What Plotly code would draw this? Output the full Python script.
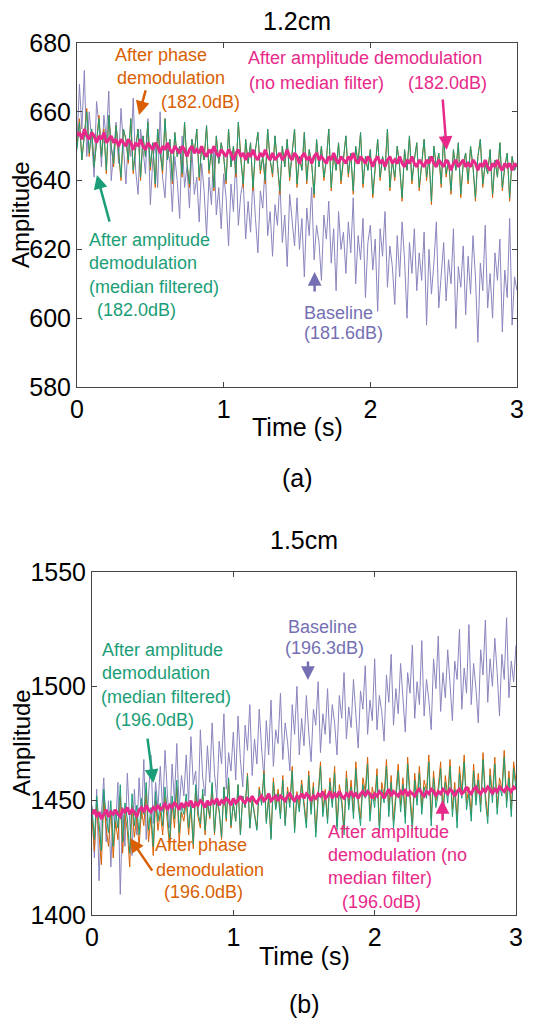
import numpy as np
import plotly.graph_objects as go

# ---------------- data ----------------
baseline_a = [
    651, 668, 655, 672, 647, 660, 652, 641, 663, 656,
    644, 659, 652, 666, 640, 648, 657, 645, 661, 650,
    639, 652, 647, 664, 643, 636, 655, 649, 642, 658,
    633, 646, 651, 638, 660, 641, 635, 650, 645, 631,
    647, 640, 629, 653, 638, 644, 632, 649, 636, 641,
    628, 645, 637, 624, 641, 633, 650, 630, 638, 626,
    642, 635, 621, 639, 631, 647, 627, 636, 640, 623,
    634, 625, 641, 629, 619, 637, 632, 645, 624, 631,
    618, 633, 627, 640, 622, 630, 615, 636, 628, 621,
    635, 620, 629, 612, 632, 624, 638, 617, 627, 622,
    611, 630, 623, 634, 616, 626, 608, 631, 620, 625,
    613, 628, 619, 635, 610, 624, 617, 629, 606, 622,
    627, 614, 623, 602, 626, 618, 631, 609, 621, 615,
    604, 624, 612, 628, 617, 600, 622, 613, 626, 608,
    619, 611, 625, 598, 620, 607, 616, 628, 603, 614,
    622, 605, 617, 610, 626, 597, 615, 609, 621, 601,
    618, 607, 624, 612, 593, 616, 608, 627, 603, 613,
    600, 619, 611, 623, 596, 614, 606, 629, 598, 612,
    608]

phase_a = [
    650, 658, 646, 653, 661, 647, 655, 644, 652, 659,
    647, 655, 642, 659, 650, 644, 656, 649, 640, 655,
    652, 645, 658, 642, 650, 655, 640, 653, 647, 657,
    643, 651, 638, 655, 648, 642, 658, 646, 652, 639,
    654, 647, 650, 641, 657, 645, 638, 652, 648, 655,
    640, 650, 646, 656, 642, 649, 637, 653, 645, 651,
    647, 639, 655, 644, 650, 641, 657, 646, 638, 652,
    645, 651, 637, 649, 654, 642, 647, 639, 655, 646,
    641, 653, 645, 636, 650, 644, 652, 640, 648, 655,
    638, 647, 643, 654, 639, 649, 645, 635, 652, 644,
    650, 640, 646, 655, 637, 648, 643, 651, 639, 646,
    653, 641, 648, 636, 650, 645, 654, 638, 647, 643,
    649, 635, 645, 652, 640, 647, 643, 655, 637, 646,
    640, 650, 644, 634, 649, 643, 653, 639, 646, 651,
    637, 645, 652, 640, 647, 633, 650, 644, 648, 638,
    653, 641, 646, 636, 649, 643, 651, 635, 645, 648,
    639, 650, 644, 634, 647, 652, 638, 645, 642, 649,
    635, 646, 641, 651, 637, 644, 648, 634, 647, 643,
    645]

amp_median_a = [
    649, 657, 646, 653, 660, 648, 655, 644, 651, 658,
    647, 654, 643, 659, 650, 645, 656, 649, 641, 655,
    652, 646, 658, 643, 650, 655, 641, 653, 647, 657,
    644, 651, 639, 655, 648, 643, 658, 646, 652, 640,
    654, 647, 650, 642, 657, 645, 639, 652, 648, 655,
    641, 650, 646, 656, 643, 649, 638, 653, 645, 651,
    647, 640, 655, 644, 650, 642, 657, 646, 639, 652,
    645, 651, 638, 649, 654, 643, 647, 640, 655, 646,
    642, 653, 645, 637, 650, 644, 652, 641, 648, 655,
    639, 647, 643, 654, 640, 649, 645, 636, 652, 644,
    650, 641, 646, 655, 638, 648, 643, 651, 640, 646,
    653, 642, 648, 637, 650, 645, 654, 639, 647, 643,
    649, 636, 645, 652, 641, 647, 643, 655, 638, 646,
    641, 650, 644, 635, 649, 643, 653, 640, 646, 651,
    638, 645, 652, 641, 647, 634, 650, 644, 648, 639,
    653, 642, 646, 637, 649, 643, 651, 636, 645, 648,
    640, 650, 644, 635, 647, 652, 639, 645, 642, 649,
    636, 646, 641, 651, 638, 644, 648, 635, 647, 643,
    645]

amp_nomedian_a = [
    653, 654, 652, 655, 653, 652, 654, 653, 651, 653,
    652, 654, 651, 652, 653, 651, 652, 650, 652, 651,
    650, 652, 651, 649, 651, 650, 652, 650, 649, 651,
    650, 649, 651, 650, 648, 650, 649, 651, 649, 648,
    650, 649, 648, 650, 649, 647, 649, 650, 648, 649,
    648, 650, 648, 647, 649, 648, 650, 648, 647, 649,
    648, 647, 649, 648, 646, 648, 649, 647, 648, 646,
    648, 647, 649, 647, 646, 648, 647, 649, 647, 646,
    648, 646, 647, 648, 646, 647, 649, 647, 646, 648,
    647, 645, 647, 648, 646, 647, 645, 647, 648, 646,
    647, 646, 645, 647, 646, 648, 646, 645, 647, 646,
    645, 647, 646, 648, 646, 645, 647, 646, 645, 647,
    646, 644, 646, 647, 645, 646, 644, 646, 647, 645,
    646, 645, 647, 645, 644, 646, 645, 647, 645, 644,
    646, 645, 644, 646, 645, 647, 645, 644, 646, 645,
    644, 646, 645, 643, 645, 646, 644, 645, 646, 644,
    645, 644, 646, 645, 643, 645, 644, 646, 644, 643,
    645, 644, 646, 644, 643, 645, 644, 645, 643, 645,
    644]

baseline_b = [
    1448, 1425, 1455, 1415, 1444, 1460, 1432, 1450, 1421, 1446,
    1438, 1458, 1409, 1447, 1430, 1462, 1441, 1426, 1455, 1435,
    1460, 1442, 1468, 1433, 1452, 1470, 1440, 1458, 1447, 1465,
    1445, 1472, 1453, 1438, 1466, 1450, 1475, 1446, 1461, 1452,
    1470, 1449, 1478, 1457, 1463, 1444, 1481, 1460, 1452, 1474,
    1458, 1484, 1462, 1451, 1476, 1466, 1488, 1455, 1471, 1463,
    1480, 1459, 1487, 1468, 1456, 1483, 1472, 1492, 1461, 1477,
    1466, 1490, 1473, 1460, 1485, 1470, 1494, 1465, 1481, 1475,
    1497, 1468, 1484, 1476, 1463, 1492, 1479, 1500, 1470, 1486,
    1474, 1496, 1480, 1467, 1490, 1483, 1502, 1471, 1488, 1479,
    1499, 1475, 1492, 1484, 1470, 1496, 1486, 1506, 1477, 1491,
    1482, 1503, 1488, 1473, 1498, 1490, 1509, 1479, 1494, 1485,
    1512, 1481, 1496, 1489, 1476, 1505, 1493, 1514, 1483, 1499,
    1488, 1510, 1495, 1480, 1506, 1497, 1518, 1486, 1502, 1492,
    1520, 1487, 1503, 1494, 1481, 1512, 1499, 1522, 1489, 1506,
    1495, 1516, 1501, 1485, 1511, 1503, 1525, 1490, 1508, 1497,
    1527, 1492, 1510, 1499, 1484, 1516, 1505, 1529, 1493, 1512,
    1500, 1521, 1506, 1487, 1514, 1503, 1530, 1495, 1511, 1502,
    1518]

phase_b = [
    1443, 1428, 1448, 1436, 1422, 1451, 1438, 1430, 1446, 1425,
    1441, 1433, 1452, 1427, 1444, 1437, 1421, 1448, 1434, 1443,
    1430, 1446, 1439, 1454, 1432, 1443, 1426, 1450, 1437, 1445,
    1435, 1452, 1441, 1429, 1449, 1438, 1456, 1432, 1445, 1441,
    1450, 1435, 1447, 1429, 1455, 1443, 1438, 1453, 1435, 1449,
    1442, 1457, 1435, 1450, 1445, 1433, 1456, 1441, 1459, 1438,
    1449, 1441, 1457, 1435, 1452, 1447, 1462, 1438, 1451, 1444,
    1438, 1456, 1449, 1463, 1441, 1452, 1434, 1460, 1447, 1455,
    1444, 1461, 1440, 1456, 1449, 1465, 1437, 1454, 1447, 1459,
    1450, 1440, 1463, 1446, 1458, 1436, 1453, 1467, 1445, 1455,
    1442, 1460, 1449, 1465, 1439, 1457, 1451, 1437, 1463, 1448,
    1459, 1445, 1467, 1451, 1442, 1460, 1454, 1469, 1444, 1456,
    1450, 1464, 1439, 1458, 1452, 1468, 1446, 1461, 1441, 1455,
    1466, 1448, 1460, 1443, 1469, 1453, 1440, 1462, 1451, 1465,
    1447, 1459, 1454, 1470, 1442, 1463, 1450, 1456, 1467, 1445,
    1461, 1452, 1468, 1446, 1458, 1441, 1465, 1454, 1470, 1449,
    1456, 1444, 1466, 1451, 1462, 1448, 1471, 1453, 1443, 1464,
    1452, 1469, 1447, 1460, 1455, 1472, 1450, 1463, 1446, 1467,
    1458]

amp_median_b = [
    1447, 1433, 1452, 1440, 1428, 1455, 1443, 1436, 1450, 1430,
    1446, 1438, 1457, 1432, 1449, 1442, 1427, 1453, 1439, 1448,
    1435, 1451, 1444, 1458, 1437, 1447, 1430, 1454, 1441, 1449,
    1439, 1456, 1445, 1433, 1452, 1442, 1459, 1436, 1448, 1444,
    1453, 1438, 1449, 1431, 1457, 1445, 1440, 1455, 1437, 1450,
    1443, 1458, 1436, 1451, 1446, 1434, 1456, 1442, 1460, 1439,
    1449, 1441, 1457, 1435, 1452, 1447, 1461, 1438, 1450, 1444,
    1437, 1455, 1448, 1462, 1440, 1451, 1433, 1458, 1446, 1453,
    1442, 1459, 1439, 1454, 1447, 1463, 1436, 1452, 1445, 1457,
    1448, 1438, 1461, 1444, 1456, 1434, 1451, 1465, 1443, 1453,
    1440, 1458, 1447, 1462, 1437, 1454, 1449, 1435, 1460, 1446,
    1456, 1442, 1464, 1448, 1439, 1457, 1451, 1466, 1441, 1453,
    1447, 1461, 1436, 1455, 1449, 1465, 1443, 1458, 1438, 1452,
    1463, 1445, 1457, 1440, 1466, 1450, 1437, 1459, 1448, 1462,
    1444, 1456, 1451, 1467, 1439, 1460, 1447, 1453, 1464, 1442,
    1458, 1449, 1465, 1443, 1455, 1438, 1462, 1451, 1467, 1446,
    1453, 1441, 1463, 1448, 1459, 1445, 1468, 1450, 1440, 1461,
    1449, 1466, 1444, 1457, 1452, 1469, 1447, 1460, 1443, 1464,
    1455]

amp_nomedian_b = [
    1444, 1446, 1443, 1445, 1442, 1444, 1446, 1443, 1445, 1444,
    1446, 1444, 1443, 1446, 1445, 1447, 1444, 1446, 1445, 1443,
    1446, 1447, 1445, 1448, 1446, 1445, 1447, 1446, 1448, 1446,
    1447, 1449, 1446, 1448, 1447, 1449, 1448, 1446, 1449, 1447,
    1449, 1448, 1450, 1447, 1449, 1448, 1450, 1449, 1447, 1450,
    1448, 1450, 1449, 1451, 1448, 1450, 1449, 1451, 1450, 1448,
    1451, 1449, 1450, 1452, 1450, 1449, 1451, 1450, 1452, 1450,
    1449, 1451, 1452, 1450, 1451, 1453, 1450, 1451, 1452, 1450,
    1452, 1451, 1450, 1452, 1453, 1451, 1450, 1452, 1451, 1453,
    1451, 1453, 1452, 1450, 1452, 1451, 1453, 1452, 1454, 1451,
    1452, 1454, 1451, 1453, 1452, 1454, 1452, 1451, 1453, 1452,
    1454, 1452, 1453, 1451, 1453, 1454, 1452, 1454, 1453, 1451,
    1453, 1452, 1454, 1453, 1451, 1453, 1455, 1452, 1454, 1453,
    1452, 1454, 1453, 1455, 1452, 1454, 1453, 1452, 1454, 1455,
    1453, 1452, 1454, 1453, 1455, 1454, 1452, 1454, 1453, 1455,
    1454, 1453, 1455, 1454, 1452, 1454, 1455, 1453, 1454, 1456,
    1454, 1453, 1455, 1456, 1454, 1453, 1455, 1454, 1456, 1455,
    1453, 1455, 1454, 1456, 1455, 1454, 1456, 1455, 1454, 1456,
    1455]

y_ticks_a = [580, 600, 620, 640, 660, 680]
y_ticks_b = [1400, 1450, 1500, 1550]
x_ticks = [0, 1, 2, 3]
T_END = 3.0

# ---------------- style ----------------
C_BASE = "#7570B3"
C_PHASE = "#D95F02"
C_MED = "#1B9E77"
C_NOMED = "#E7298A"
FONT = "Liberation Sans, Arial, Helvetica, sans-serif"
W, H = 550, 1020
OFF = 8  # page body margin of the html page

fig = go.Figure()


def add_panel(base, phase, med, nomed, xa, ya):
    for vals, color, width, op in [(base, C_BASE, 1, 0.85), (phase, C_PHASE, 1, 1),
                                   (med, C_MED, 1, 1), (nomed, C_NOMED, 3, 1)]:
        t = np.linspace(0, T_END, len(vals))
        fig.add_trace(go.Scatter(x=t, y=vals, mode="lines", xaxis=xa, yaxis=ya,
                                 line=dict(color=color, width=width), opacity=op,
                                 showlegend=False, hoverinfo="skip"))


add_panel(baseline_a, phase_a, amp_median_a, amp_nomedian_a, "x", "y")
add_panel(baseline_b, phase_b, amp_median_b, amp_nomedian_b, "x2", "y2")

axis_common = dict(showline=True, linecolor="#444", linewidth=1, mirror="ticks",
                   ticks="inside", ticklen=5, tickcolor="#444", showgrid=False,
                   zeroline=False, automargin=False,
                   tickfont=dict(family=FONT, size=25, color="black"))


def px(x):
    return (x - OFF) / W


def py(y):
    return 1 - (y - OFF) / H


fig.update_layout(
    template="none",
    width=W, height=H, margin=dict(l=0, r=0, t=0, b=0, pad=0, autoexpand=False),
    paper_bgcolor="white", plot_bgcolor="white",
    xaxis=dict(domain=[px(77), px(517)], range=[0, 3], tickvals=x_ticks, anchor="y", **axis_common),
    yaxis=dict(domain=[py(387), py(43)], range=[580, 680], tickvals=y_ticks_a, anchor="x", **axis_common),
    xaxis2=dict(domain=[px(92), px(516)], range=[0, 3], tickvals=x_ticks, anchor="y2", **axis_common),
    yaxis2=dict(domain=[py(915), py(572)], range=[1400, 1550], tickvals=y_ticks_b, anchor="x2", **axis_common),
)

ann = []


def label(text, x, y, size=25, color="black", xanchor="center", angle=0):
    ann.append(dict(text=text, x=px(x), y=py(y), xref="paper", yref="paper",
                    xanchor=xanchor, yanchor="middle", showarrow=False, textangle=angle,
                    font=dict(family=FONT, size=size, color=color)))


# titles / axis labels
label("1.2cm", 297, 21)
label("Time (s)", 297, 427)
label("(a)", 297, 478)
label("Amplitude", 21, 215, size=24, angle=-90)
label("1.5cm", 304, 540)
label("Time (s)", 304, 956)
label("(b)", 304, 1004)
label("Amplitude", 21, 743, size=24, angle=-90)


def note(lines, color):
    for text, x, y in lines:
        label(text, x, y, size=18, color=color, xanchor="left")


# panel (a) notes
note([("After phase", 113, 55), ("demodulation", 115, 78), ("(182.0dB)", 159, 102)], C_PHASE)
note([("After amplitude demodulation", 246, 58), ("(no median filter)", 247, 83),
      ("(182.0dB)", 406, 83)], C_NOMED)
note([("After amplitude", 87, 240), ("demodulation", 87, 263), ("(median filtered)", 87, 287),
      ("(182.0dB)", 95, 310)], C_MED)
note([("Baseline", 302, 313), ("(181.6dB)", 302, 333)], C_BASE)

# panel (b) notes
note([("Baseline", 286, 627), ("(196.3dB)", 283, 648)], C_BASE)
note([("After amplitude", 100, 650), ("demodulation", 100, 673), ("(median filtered)", 99, 697),
      ("(196.0dB)", 113, 720)], C_MED)
note([("After phase", 153, 845), ("demodulation", 154, 870), ("(196.0dB)", 162, 892)], C_PHASE)
note([("After amplitude", 326, 832), ("demodulation (no", 326, 855), ("median filter)", 326, 878),
      ("(196.0dB)", 340, 902)], C_NOMED)


def arrow(x, y, ax, ay, xr, yr, color):
    ann.append(dict(text="", x=x, y=y, xref=xr, yref=yr, ax=ax, ay=ay,
                    axref="pixel", ayref="pixel", showarrow=True, arrowhead=2,
                    arrowsize=1.1, arrowwidth=2.5, arrowcolor=color))


arrow(0.423, 659.1, 7, -26, "x", "y", C_PHASE)
arrow(2.52, 648.9, -4, -52, "x", "y", C_NOMED)
arrow(0.136, 641.6, 13, 48, "x", "y", C_MED)
arrow(1.62, 613.4, 0, 21, "x", "y", C_BASE)

arrow(1.528, 1502.8, 0, -20, "x2", "y2", C_BASE)
arrow(0.434, 1457.7, -6, -46, "x2", "y2", C_MED)
arrow(0.27, 1433.6, 23, 34, "x2", "y2", C_PHASE)
arrow(2.48, 1450.3, 0, 22, "x2", "y2", C_NOMED)

fig.update_layout(annotations=ann)
fig.write_html("out.html")
